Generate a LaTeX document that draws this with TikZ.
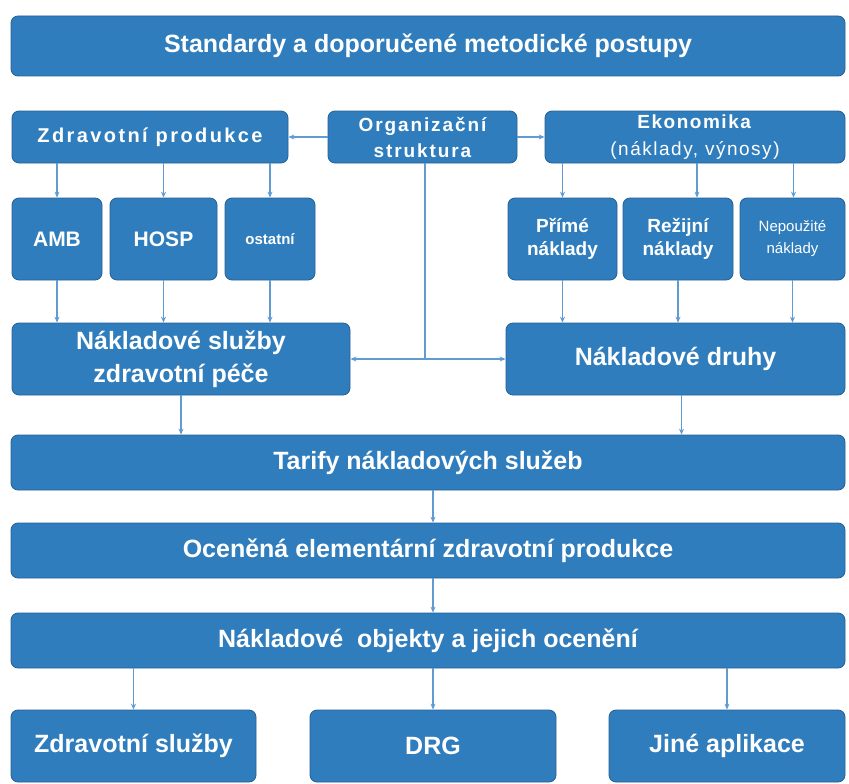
\documentclass[tikz,border=0pt]{standalone}
\usepackage{fontspec}
\setmainfont{Liberation Sans}
\usepackage{xcolor}
\usetikzlibrary{arrows.meta,calc}
\definecolor{boxblue}{RGB}{47,125,188}
\definecolor{boxedge}{RGB}{36,96,150}
\definecolor{linkblue}{RGB}{96,155,210}
\newcommand{\sz}[2]{\fontsize{#1}{#2}\selectfont}
\newcommand{\wide}[1]{\addfontfeature{LetterSpace=#1}}

\begin{document}
\begin{tikzpicture}[x=1pt,y=-1pt,
  box/.style={draw=boxedge,line width=0.8pt,fill=boxblue,rounded corners=7pt,
    text=white,font=\bfseries,align=center,inner sep=0pt},
  link/.style={draw=linkblue,line width=1.1pt},
  conn/.style={link,-{Stealth[length=6pt,width=5pt]}}]
  \useasboundingbox (0,0) rectangle (849,784);

  %% -- top --
  \node[box,minimum width=834pt,minimum height=60pt,font=\bfseries\sz{25}{28}]
    (std) at (428,46) {Standardy a doporučené metodické postupy};

  %% -- second row --
  \node[box,minimum width=276pt,minimum height=52pt,font=\bfseries\sz{20}{22}\wide{12}]
    (zprod) at (150,137) {Zdravotní produkce};
  \node[box,minimum width=189pt,minimum height=52pt,font=\bfseries\sz{19}{26}\wide{10}]
    (org) at (422.5,137) {Organizační\\struktura};
  \node[box,minimum width=300pt,minimum height=52pt,font=\sz{19}{27}\wide{8}]
    (ekon) at (695,137) {\textbf{Ekonomika}\\(náklady, výnosy)};

  %% -- third row --
  \node[box,minimum width=90pt,minimum height=82pt,font=\bfseries\sz{21}{24}]
    (amb) at (57,239) {AMB};
  \node[box,minimum width=107pt,minimum height=82pt,font=\bfseries\sz{21}{24}]
    (hosp) at (163.5,239) {HOSP};
  \node[box,minimum width=90pt,minimum height=82pt,font=\bfseries\sz{15}{18}]
    (ost) at (270,239) {ostatní};
  \node[box,minimum width=109pt,minimum height=82pt,font=\bfseries\sz{19}{23}]
    (prime) at (562.5,239) {Přímé\\náklady};
  \node[box,minimum width=110pt,minimum height=82pt,font=\bfseries\sz{19}{23}]
    (rezij) at (678,239) {Režijní\\náklady};
  \node[box,minimum width=105pt,minimum height=82pt,font=\sz{15}{22}]
    (nepouz) at (792.5,239) {Nepoužité\\náklady};

  %% -- fourth row --
  \node[box,minimum width=338pt,minimum height=72pt,font=\bfseries\sz{25}{33}]
    (nszp) at (181,359) {Nákladové služby\\zdravotní péče};
  \node[box,minimum width=339pt,minimum height=72pt,font=\bfseries\sz{25}{28}]
    (ndruhy) at (675.5,359) {Nákladové druhy};

  %% -- full-width rows --
  \node[box,minimum width=834pt,minimum height=55pt,font=\bfseries\sz{25}{28}]
    (tarify) at (428,462.5) {Tarify nákladových služeb};
  \node[box,minimum width=834pt,minimum height=55pt,font=\bfseries\sz{25}{28}]
    (ocen) at (428,550.5) {Oceněná elementární zdravotní produkce};
  \node[box,minimum width=834pt,minimum height=55pt,font=\bfseries\sz{25}{28}]
    (nobj) at (428,640.5) {Nákladové\ \ objekty a jejich ocenění};

  %% -- bottom row --
  \node[box,minimum width=245pt,minimum height=72pt,font=\bfseries\sz{25}{28}]
    (zsluz) at (133.5,746) {Zdravotní služby};
  \node[box,minimum width=246pt,minimum height=72pt,font=\bfseries\sz{25}{28}]
    (drg) at (433,746) {DRG};
  \node[box,minimum width=236pt,minimum height=72pt,font=\bfseries\sz{25}{28}]
    (jine) at (727,746) {Jiné aplikace};

  %% -- connectors --
  \draw[conn] (org.west) -- (zprod.east);
  \draw[conn] (org.east) -- (ekon.west);
  \foreach \n in {amb,hosp,ost} {
    \draw[conn] (zprod.south -| \n.north) -- (\n.north);
    \draw[conn] (\n.south) -- (\n.south |- nszp.north);
  }
  \foreach \n/\dx in {prime/0,rezij/19,nepouz/1} {
    \draw[conn] ($(ekon.south -| \n.north)+(\dx,0)$) -- ($(\n.north)+(\dx,0)$);
    \draw[conn] (\n.south) -- (\n.south |- ndruhy.north);
  }
  \coordinate (split) at ($(org.south)+(2.5,0)$);
  \coordinate (fork) at (split |- nszp.east);
  \draw[link] (split) -- (fork);
  \draw[conn] (fork) -- (nszp.east);
  \draw[conn] (fork) -- (ndruhy.west);
  \draw[conn] (nszp.south) -- (nszp.south |- tarify.north);
  \coordinate (dfoot) at ($(ndruhy.south)+(6,0)$);
  \draw[conn] (dfoot) -- (dfoot |- tarify.north);
  \draw[conn] (tarify.south -| drg.north) -- (ocen.north -| drg.north);
  \draw[conn] (ocen.south -| drg.north) -- (nobj.north -| drg.north);
  \foreach \n in {zsluz,drg,jine}
    \draw[conn] (nobj.south -| \n.north) -- (\n.north);
\end{tikzpicture}
\end{document}
